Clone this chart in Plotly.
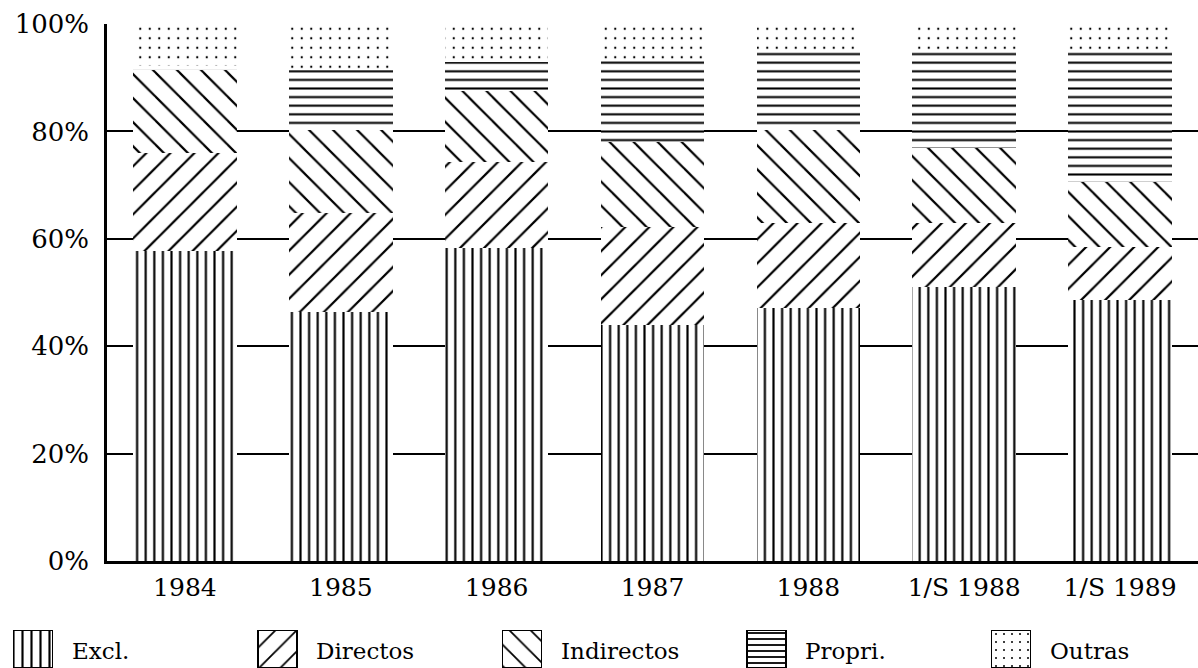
import plotly.graph_objects as go

categories = ["1984", "1985", "1986", "1987", "1988", "1/S 1988", "1/S 1989"]
excl = [57.8, 46.3, 58.3, 43.9, 47.1, 51.0, 48.6]
directos = [18.2, 18.5, 16.0, 18.3, 15.9, 12.0, 9.9]
indirectos = [15.4, 15.5, 13.2, 15.8, 17.3, 13.9, 12.1]
propri = [0.8, 11.1, 5.5, 15.3, 14.5, 17.9, 24.2]
outras = [7.8, 8.6, 7.0, 6.7, 5.2, 5.2, 5.2]

series_names = ["Excl.", "Directos", "Indirectos", "Propri.", "Outras"]
series_values = [excl, directos, indirectos, propri, outras]
tick_vals = [0, 20, 40, 60, 80, 100]
tick_text = ["0%", "20%", "40%", "60%", "80%", "100%"]

patterns = {
    "Excl.": dict(shape="|", size=8.6, solidity=0.25),
    "Directos": dict(shape="/", size=17, solidity=0.13),
    "Indirectos": dict(shape="\\", size=17, solidity=0.13),
    "Propri.": dict(shape="-", size=8.6, solidity=0.24),
    "Outras": dict(shape=".", size=9.5, solidity=0.045),
}
legend_patterns = {
    "Excl.": dict(shape="|", size=9, solidity=0.24),
    "Directos": dict(shape="/", size=15, solidity=0.12),
    "Indirectos": dict(shape="\\", size=15, solidity=0.12),
    "Propri.": dict(shape="-", size=6, solidity=0.3),
    "Outras": dict(shape=".", size=8, solidity=0.05),
}

FONT = "DejaVu Serif"
fig = go.Figure()

for name, vals in zip(series_names, series_values):
    p = patterns[name]
    fig.add_trace(go.Bar(
        x=categories, y=vals, name=name, showlegend=False,
        width=0.665,
        marker=dict(
            color="white",
            line=dict(width=0),
            pattern=dict(shape=p["shape"], size=p["size"], solidity=p["solidity"],
                         fgcolor="black", bgcolor="white", fillmode="replace"),
        ),
        xaxis="x", yaxis="y",
    ))

# custom legend drawn as a small bar chart
for i, name in enumerate(series_names):
    p = legend_patterns[name]
    fig.add_trace(go.Bar(
        x=[i], y=[1], base=0, width=0.16, showlegend=False, name=name,
        marker=dict(
            color="white",
            line=dict(width=1.5, color="black"),
            pattern=dict(shape=p["shape"], size=p["size"], solidity=p["solidity"],
                         fgcolor="black", bgcolor="white", fillmode="replace"),
        ),
        xaxis="x2", yaxis="y2", hoverinfo="skip",
    ))
    fig.add_annotation(
        x=i + 0.15, y=0.45, xref="x2", yref="y2", text=name, showarrow=False,
        xanchor="left", yanchor="middle",
        font=dict(family=FONT, size=23, color="black"),
    )

fig.update_layout(
    width=1198, height=668,
    margin=dict(l=0, r=0, t=0, b=0, autoexpand=False),
    paper_bgcolor="white", plot_bgcolor="white",
    barmode="stack", showlegend=False,
    font=dict(family=FONT, size=24, color="black"),
    xaxis=dict(
        domain=[107 / 1198, 1.0],
        showgrid=False, showline=True, linecolor="black", linewidth=2.5,
        ticks="", tickfont=dict(family=FONT, size=25, color="black"),
        ticklabelstandoff=2, anchor="y", automargin=False,
    ),
    yaxis=dict(
        domain=[107 / 668, 1 - 24 / 668],
        range=[0, 100], tickvals=tick_vals, ticktext=tick_text,
        showgrid=True, gridcolor="black", gridwidth=1.5,
        showline=True, linecolor="black", linewidth=2.5,
        zeroline=False, ticks="",
        tickfont=dict(family=FONT, size=26, color="black"),
        ticklabelstandoff=10, anchor="x", automargin=False,
    ),
    xaxis2=dict(
        domain=[0, 1], range=[-0.135, 4.765], anchor="y2",
        visible=False, fixedrange=True, automargin=False,
    ),
    yaxis2=dict(
        domain=[0, 38 / 668], range=[0, 1], anchor="x2",
        visible=False, fixedrange=True, automargin=False,
    ),
)

fig.write_html(
    "out.html",
    config={"displayModeBar": False},
    post_script="document.body.style.margin='0';document.body.style.overflow='hidden';",
)
